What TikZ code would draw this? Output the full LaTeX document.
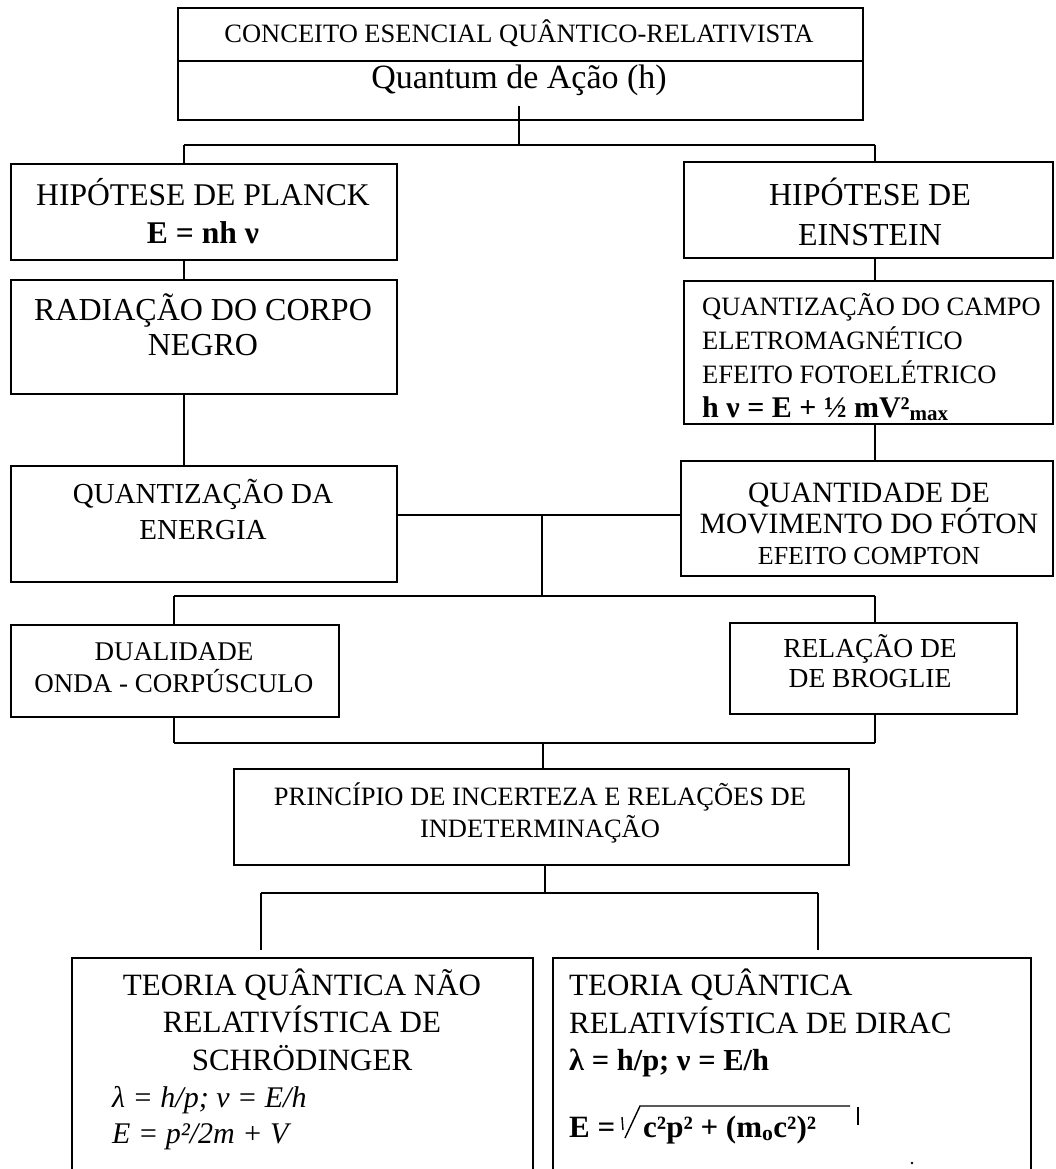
\documentclass[tikz,border=0pt]{standalone}
\usepackage{fontspec}
\setmainfont{Liberation Serif}
\begin{document}
\begin{tikzpicture}[x=1pt,y=-1pt,
  box/.style={draw,line width=2.4pt,inner sep=0pt,anchor=north west},
  link/.style={line width=1.6pt},
  txt/.style={inner sep=0pt,align=center,anchor=base},
  ltxt/.style={inner sep=0pt,align=left,anchor=base west}]
\clip (0,0) rectangle (1055,1169);
\fill[white] (0,0) rectangle (1055,1169);

% ---- header box with two rows
\node[box,minimum width=685,minimum height=112] (head) at (177,7) {};
\coordinate (divY) at (0,61);
\draw[line width=1.6pt] (head.west |- divY) -- (head.east |- divY);
\node[txt,font=\fontsize{26.5}{30}\selectfont] (headA) at (519,43) {CONCEITO ESENCIAL QUÂNTICO-RELATIVISTA};
\node[txt,font=\fontsize{34}{40}\selectfont] (headB) at (519,89) {Quantum de Ação (h)};

% ---- left column (text nodes are placed by the baseline of their last line)
\node[box,minimum width=386,minimum height=96] (planck) at (10,163) {};
\node[txt,font=\fontsize{31.6}{38}\selectfont] (planckT) at (203,243) {HIPÓTESE DE PLANCK\\\textbf{E = nh ν}};
\node[box,minimum width=386,minimum height=114] (radiacao) at (10,279) {};
\node[txt,font=\fontsize{32}{35}\selectfont] (radiacaoT) at (203,355) {RADIAÇÃO DO CORPO\\NEGRO};
\node[box,minimum width=386,minimum height=116] (energia) at (10,465) {};
\node[txt,font=\fontsize{29}{36}\selectfont] (energiaT) at (203,539) {QUANTIZAÇÃO DA\\ENERGIA};

% ---- right column
\node[box,minimum width=369,minimum height=96] (einstein) at (683,161) {};
\node[txt,font=\fontsize{32}{40}\selectfont] (einsteinT) at (870,245) {HIPÓTESE DE\\EINSTEIN};
\node[box,minimum width=369,minimum height=143] (campo) at (683,280) {};
\node[ltxt,font=\fontsize{26.5}{34}\selectfont] (campoT) at (702,417)
  {QUANTIZAÇÃO DO CAMPO\\ELETROMAGNÉTICO\\EFEITO FOTOELÉTRICO\\
   {\fontsize{30}{34}\selectfont\bfseries h ν = E + ½ mV²\textsubscript{max}}};
\node[box,minimum width=372,minimum height=115] (quant) at (680,460) {};
\node[txt,font=\fontsize{29.5}{31}\selectfont] (quantT) at (869,564)
  {QUANTIDADE DE\\MOVIMENTO DO FÓTON\\{\fontsize{26}{31}\selectfont EFEITO COMPTON}};

% ---- second level
\node[box,minimum width=328,minimum height=92] (dual) at (10,624) {};
\node[txt,font=\fontsize{27}{32}\selectfont] (dualT) at (174,692) {DUALIDADE\\ONDA - CORPÚSCULO};
\node[box,minimum width=287,minimum height=91] (broglie) at (729,622) {};
\node[txt,font=\fontsize{27.5}{30}\selectfont] (broglieT) at (870,687) {RELAÇÃO DE\\DE BROGLIE};

\node[box,minimum width=615,minimum height=96] (princ) at (233,768) {};
\node[txt,font=\fontsize{26.5}{32}\selectfont] (princT) at (540,837)
  {PRINCÍPIO DE INCERTEZA E RELAÇÕES DE\\INDETERMINAÇÃO};

% ---- bottom boxes (open towards the page edge)
\node[box,minimum width=461,minimum height=240] (schr) at (71,957) {};
\node[txt,font=\fontsize{31}{37.5}\selectfont] (schrT) at (302,1070)
  {TEORIA QUÂNTICA NÃO\\RELATIVÍSTICA DE\\SCHRÖDINGER};
\node[ltxt,font=\fontsize{30}{36}\selectfont\itshape] (schrF) at (112,1143)
  {λ = h/p; ν = E/h\\E = p²/2m + V};

\node[box,minimum width=478,minimum height=240] (dirac) at (552,957) {};
\node[ltxt,font=\fontsize{31}{37.5}\selectfont] (diracT) at (569,1033)
  {TEORIA QUÂNTICA\\RELATIVÍSTICA DE DIRAC};
\node[ltxt,font=\fontsize{30.5}{32}\selectfont\bfseries] (diracF) at (569,1070) {λ = h/p; ν = E/h};
\node[ltxt,font=\fontsize{31}{32}\selectfont\bfseries] (diracE) at (569,1137) {E =};
\node[ltxt,font=\fontsize{31}{32}\selectfont\bfseries] (diracR) at (643,1137)
  {c²p² + (m\textsubscript{o}c²)²};
\draw[line width=1.4pt] (622,1117) -- (623,1130);
\draw[line width=1.4pt] (625,1138) -- (640,1106) -- (850,1106);
\draw[line width=1.4pt] (858,1107) -- (858,1125);
\fill (912,1163) circle (1.4);

% ---- connectors
\coordinate (stem) at (519,106);
\coordinate (jTop) at (519,145);
\coordinate (jL) at (184,145);
\coordinate (jR) at (875,145);
\draw[link] (stem) -- (jTop);
\draw[link] (jL) -- (jR);
\draw[link] (jL) -- (jL |- planck.north);
\draw[link] (jR) -- (jR |- einstein.north);
\draw[link] (jL |- planck.south) -- (jL |- radiacao.north);
\draw[link] (jL |- radiacao.south) -- (jL |- energia.north);
\draw[link] (jR |- einstein.south) -- (jR |- campo.north);
\draw[link] (jR |- campo.south) -- (jR |- quant.north);

\coordinate (jMid) at (542,515);
\coordinate (jMid2) at (542,596);
\draw[link] (energia.east |- jMid) -- (quant.west |- jMid);
\draw[link] (jMid) -- (jMid2);
\coordinate (jDL) at (174,596);
\coordinate (jDR) at (875,596);
\draw[link] (jDL) -- (jDR);
\draw[link] (jDL) -- (jDL |- dual.north);
\draw[link] (jDR) -- (jDR |- broglie.north);

\coordinate (jBL) at (174,743);
\coordinate (jBR) at (875,743);
\coordinate (jBC) at (543,743);
\draw[link] (jBL |- dual.south) -- (jBL);
\draw[link] (jBR |- broglie.south) -- (jBR);
\draw[link] (jBL) -- (jBR);
\draw[link] (jBC) -- (jBC |- princ.north);

\coordinate (jP) at (545,893);
\coordinate (jPL) at (261,893);
\coordinate (jPR) at (818,893);
\coordinate (endL) at (261,950);
\coordinate (endR) at (818,950);
\draw[link] (jP |- princ.south) -- (jP);
\draw[link] (jPL) -- (jPR);
\draw[link] (jPL) -- (endL);
\draw[link] (jPR) -- (endR);
\end{tikzpicture}
\end{document}
